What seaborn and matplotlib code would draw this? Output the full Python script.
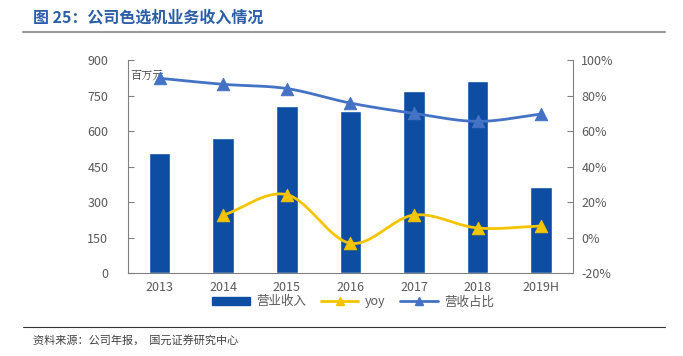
"""
公司色选机业务收入情况 - bar + two lines on twin axis
"""

import numpy as np
import pandas as pd
import matplotlib
matplotlib.use("Agg")
import matplotlib.pyplot as plt
import seaborn as sns
from matplotlib.lines import Line2D
from matplotlib.patches import Patch

# ============ DATA ============
years = ["2013", "2014", "2015", "2016", "2017", "2018", "2019H"]
revenue = [507, 570, 708, 683, 768, 814, 364]          # 百万元
yoy = [np.nan, 12.6, 24.2, -3.2, 12.7, 5.4, 6.5]        # %
share = [89.8, 86.4, 84.0, 75.8, 70.0, 65.5, 69.6]      # %

BAR_COLOR = "#0D4EA3"
YOY_COLOR = "#F5C400"
SHARE_COLOR = "#4472C4"
TEXT_GRAY = "#595959"


def smooth(x, y, n=30):
    """Catmull-Rom curve through the points, like Excel's smoothed line"""
    x = np.asarray(x, float)
    y = np.asarray(y, float)
    px = np.concatenate([[2 * x[0] - x[1]], x, [2 * x[-1] - x[-2]]])
    py = np.concatenate([[2 * y[0] - y[1]], y, [2 * y[-1] - y[-2]]])
    xs, ys = [], []
    for i in range(1, len(px) - 2):
        t = np.linspace(0, 1, n)
        for p, out in ((px, xs), (py, ys)):
            p0, p1, p2, p3 = p[i - 1], p[i], p[i + 1], p[i + 2]
            out.append(0.5 * (2 * p1 + (-p0 + p2) * t
                              + (2 * p0 - 5 * p1 + 4 * p2 - p3) * t ** 2
                              + (-p0 + 3 * p1 - 3 * p2 + p3) * t ** 3))
    return np.concatenate(xs), np.concatenate(ys)


def main():
    sns.set_style("white")
    plt.rcParams["font.family"] = ["Noto Sans CJK SC", "DejaVu Sans"]

    df = pd.DataFrame({"year": years, "revenue": revenue, "yoy": yoy, "share": share})
    pos = np.arange(len(years))

    fig = plt.figure(figsize=(6.83, 3.56), dpi=100)
    ax = fig.add_axes([0.187, 0.233, 0.652, 0.598])

    sns.barplot(data=df, x="year", y="revenue", color=BAR_COLOR, width=0.34,
                saturation=1, ax=ax)
    ax.set_ylim(0, 900)
    ax.set_yticks(np.arange(0, 901, 150))
    ax.set_xlim(-0.5, len(years) - 0.5)
    ax.set_xlabel("")
    ax.set_ylabel("")

    ax2 = ax.twinx()
    ax2.set_ylim(-20, 100)
    ax2.set_yticks(np.arange(-20, 101, 20))
    ax2.set_yticklabels([f"{v}%" for v in range(-20, 101, 20)])

    # share line
    sx, sy = smooth(pos, df["share"])
    ax2.plot(sx, sy, color=SHARE_COLOR, lw=2)
    sns.scatterplot(x=pos, y=df["share"], marker="^", s=80, color=SHARE_COLOR,
                    edgecolor=SHARE_COLOR, ax=ax2, zorder=5)

    # yoy line
    m = ~df["yoy"].isna()
    yx, yy = smooth(pos[m], df["yoy"][m])
    ax2.plot(yx, yy, color=YOY_COLOR, lw=2)
    sns.scatterplot(x=pos[m], y=df["yoy"][m], marker="^", s=80, color=YOY_COLOR,
                    edgecolor=YOY_COLOR, ax=ax2, zorder=5)
    ax2.set_xlim(-0.5, len(years) - 0.5)
    ax2.set_ylabel("")

    # spines and ticks
    for a in (ax, ax2):
        for s in ("top", "right", "left", "bottom"):
            a.spines[s].set_visible(False)
        a.tick_params(colors=TEXT_GRAY, labelsize=9, length=0)
    ax.spines["left"].set_visible(True)
    ax.spines["left"].set_color("#808080")
    ax.spines["bottom"].set_visible(True)
    ax.spines["bottom"].set_color("#808080")
    ax2.spines["right"].set_visible(True)
    ax2.spines["right"].set_color("#808080")
    ax.tick_params(axis="y", length=4, direction="in", color="#808080", pad=14)
    ax2.tick_params(axis="y", length=4, direction="in", color="#808080", pad=6)
    ax.tick_params(axis="x", pad=6)
    ax.set_xticks(np.arange(-0.5, len(years), 1), minor=True)
    ax.tick_params(axis="x", which="minor", length=4, direction="in", color="#808080")

    ax.text(0.005, 0.93, "百万元", transform=ax.transAxes, fontsize=8,
            color="#404040", fontfamily=["Noto Serif CJK SC", "Noto Sans CJK SC"],
            va="center")

    # legend
    handles = [
        Patch(facecolor=BAR_COLOR, edgecolor=BAR_COLOR),
        Line2D([], [], color=YOY_COLOR, lw=2, marker="^", markersize=6),
        Line2D([], [], color=SHARE_COLOR, lw=2, marker="^", markersize=6),
    ]
    fig.legend(handles, ["营业收入", "yoy", "营收占比"], loc="center",
               bbox_to_anchor=(0.517, 0.152), ncol=3, frameon=False, fontsize=9,
               labelcolor=TEXT_GRAY, handlelength=3.0, handleheight=0.6,
               columnspacing=1.2, handletextpad=0.5, borderpad=0.1)

    # title and source
    fig.text(0.048, 0.952, "图 25：公司色选机业务收入情况", fontsize=11.5,
             fontweight="bold", color="#2B5EA7", va="center")
    fig.add_artist(Line2D([0.033, 0.974], [0.91, 0.91], color="#999999", lw=1.5))
    fig.add_artist(Line2D([0.033, 0.974], [0.081, 0.081], color="#333333", lw=0.8))
    fig.text(0.048, 0.045, "资料来源：公司年报，  国元证券研究中心", fontsize=8,
             color="#404040", va="center")

    fig.savefig("out.png", dpi=100)


if __name__ == "__main__":
    main()
